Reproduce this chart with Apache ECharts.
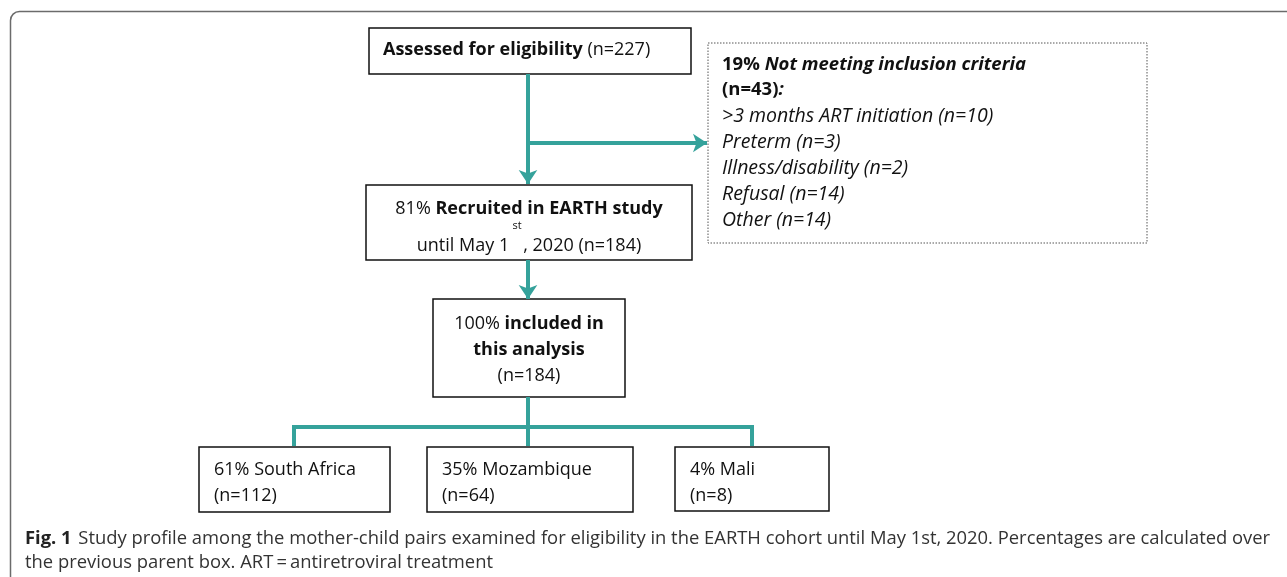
<!DOCTYPE html>
<html><head><meta charset="utf-8">
<script src="https://cdn.jsdelivr.net/npm/echarts@6/dist/echarts.min.js"></script>
<style>html,body{margin:0;padding:0;background:#fff;}#c{width:1287px;height:577px;}</style>
</head><body><div id="c"></div>
<script>
// ---- data ----
const assessedN = 227;
const recruitedPct = 81, recruitedN = 184;
const includedPct = 100, includedN = 184;
const countries = ['South Africa', 'Mozambique', 'Mali'];
const countryPct = [61, 35, 4];
const countryN = [112, 64, 8];
const excludedPct = 19, excludedN = 43;
const exclusionReasons = ['>3 months ART initiation', 'Preterm', 'Illness/disability', 'Refusal', 'Other'];
const exclusionN = [10, 3, 2, 14, 14];
const captionBold = 'Fig. 1';
const captionLines = ['Study profile among the mother-child pairs examined for eligibility in the EARTH cohort until May 1st, 2020. Percentages are calculated over',
  'the previous parent box. ART\u2009=\u2009antiretroviral treatment'];

// ---- layout (pixel space of hidden axes) ----
const boxLayout = [
  [369, 28, 691, 74],   // assessed
  [366, 185, 692, 260], // recruited
  [433, 299, 625, 397], // included
  [199, 447, 390, 512], // South Africa
  [427, 447, 633, 512], // Mozambique
  [675, 447, 829, 511]  // Mali
];
const dashLayout = [708, 43, 1147, 243];
const arrowPaths = [
  [[528, 74], [528, 184]],
  [[528, 143], [707, 143]],
  [[528, 260], [528, 299]]
];
const connectorPaths = [
  [[528, 397], [528, 446]],
  [[294, 446], [294, 427], [752, 427], [752, 446]]
];

const TEAL = '#35a29b';
const FF = '"Open Sans", Lato, sans-serif';
const FS = 18;

function boxTexts(i, x0, y0, x1, y1) {
  const cx = (x0 + x1) / 2;
  const base = {fill: '#111', fontFamily: FF, fontSize: FS};
  const rich = {
    b: {fontWeight: 'bold', fontFamily: FF, fontSize: FS, fill: '#111'},
    r: {fontFamily: FF, fontSize: FS, fill: '#111'}
  };
  const T = (text, x, y, align, extra) => ({type: 'text', style: Object.assign({}, base, {text, x, y, align, verticalAlign: 'middle', rich}, extra || {})});
  const els = [];
  if (i === 0) {
    els.push(T('{b|Assessed for eligibility} {r|(n=' + assessedN + ')}', x0 + 14, y0 + 22, 'left'));
  } else if (i === 1) {
    els.push(T('{r|' + recruitedPct + '% }{b|Recruited in EARTH study}', cx, y0 + 24, 'center'));
    els.push(T('until May 1   , 2020 (n=' + recruitedN + ')', cx, y0 + 61, 'center'));
    els.push(T('st', cx - 12, y0 + 41, 'center', {fontSize: 11}));
  } else if (i === 2) {
    els.push(T('{r|' + includedPct + '% }{b|included in}', cx, y0 + 25, 'center'));
    els.push(T('{b|this analysis}', cx, y0 + 51, 'center'));
    els.push(T('(n=' + includedN + ')', cx, y0 + 77, 'center'));
  } else {
    const k = i - 3;
    els.push(T(countryPct[k] + '% ' + countries[k], x0 + 15, y0 + 23, 'left'));
    els.push(T('(n=' + countryN[k] + ')', x0 + 15, y0 + 49, 'left'));
  }
  return els;
}

const chart = echarts.init(document.getElementById('c'), null, {renderer: 'canvas'});
const option = {
  animation: false,
  backgroundColor: '#fff',
  grid: {left: 0, right: 0, top: 0, bottom: 0},
  xAxis: {type: 'value', min: 0, max: 1287, show: false},
  yAxis: {type: 'value', min: 0, max: 577, inverse: true, show: false},
  graphic: [
    {type: 'rect', shape: {x: 10.5, y: 11.5, width: 1400, height: 700, r: [9, 0, 0, 0]},
     style: {fill: 'none', stroke: '#6b6b6b', lineWidth: 1.5}, silent: true, z: -10}
  ],
  series: [
    {
      type: 'custom', coordinateSystem: 'cartesian2d', clip: false, silent: true,
      data: boxLayout,
      renderItem: function (params, api) {
        const p0 = api.coord([api.value(0), api.value(1)]);
        const p1 = api.coord([api.value(2), api.value(3)]);
        const children = [{type: 'rect', shape: {x: p0[0], y: p0[1], width: p1[0] - p0[0], height: p1[1] - p0[1]},
          style: {fill: '#fff', stroke: '#111', lineWidth: 1.5}}];
        return {type: 'group', children: children.concat(boxTexts(params.dataIndex, p0[0], p0[1], p1[0], p1[1]))};
      }
    },
    {
      type: 'custom', coordinateSystem: 'cartesian2d', clip: false, silent: true,
      data: [dashLayout],
      renderItem: function (params, api) {
        const p0 = api.coord([api.value(0), api.value(1)]);
        const p1 = api.coord([api.value(2), api.value(3)]);
        const HS = 18.5, IS = 19.5;
        const rich = {
          b: {fontWeight: 'bold', fontFamily: FF, fontSize: HS, fill: '#111'},
          bi: {fontWeight: 'bold', fontStyle: 'italic', fontFamily: FF, fontSize: HS, fill: '#111'}
        };
        const children = [{type: 'rect', shape: {x: p0[0], y: p0[1], width: p1[0] - p0[0], height: p1[1] - p0[1]},
          style: {fill: '#fff', stroke: '#555', lineWidth: 1, lineDash: [1.5, 1.5]}}];
        const lx = p0[0] + 14;
        children.push({type: 'text', style: {text: '{b|' + excludedPct + '% }{bi|Not meeting inclusion criteria}', rich, x: lx, y: p0[1] + 22, verticalAlign: 'middle', fontFamily: FF, fontSize: HS}});
        children.push({type: 'text', style: {text: '{b|(n=' + excludedN + ')}{bi|:}', rich, x: lx, y: p0[1] + 47, verticalAlign: 'middle', fontFamily: FF, fontSize: HS}});
        exclusionReasons.forEach(function (r, j) {
          children.push({type: 'text', style: {text: r + ' (n=' + exclusionN[j] + ')', x: lx, y: p0[1] + 73 + j * 26, verticalAlign: 'middle',
            fontFamily: FF, fontSize: IS, fontStyle: 'italic', fill: '#111'}});
        });
        return {type: 'group', children};
      }
    },
    {
      type: 'lines', coordinateSystem: 'cartesian2d', silent: true, z: 5,
      symbol: ['none', 'arrow'], symbolSize: 14,
      lineStyle: {color: TEAL, width: 4, opacity: 1},
      data: arrowPaths.map(c => ({coords: c}))
    },
    {
      type: 'lines', coordinateSystem: 'cartesian2d', polyline: true, silent: true,
      symbol: 'none',
      lineStyle: {color: TEAL, width: 4, opacity: 1, join: 'miter'},
      data: connectorPaths.map(c => ({coords: c}))
    },
    {
      type: 'custom', coordinateSystem: 'cartesian2d', clip: false, silent: true,
      data: [[25, 539]],
      renderItem: function (params, api) {
        const p = api.coord([api.value(0), api.value(1)]);
        const CF = '"Open Sans", Lato, sans-serif';
        const CS = 18.4;
        return {type: 'group', children: [
          {type: 'text', style: {text: '{b|' + captionBold + '}  {r|' + captionLines[0] + '}', x: p[0], y: p[1], verticalAlign: 'middle',
            rich: {b: {fontWeight: 'bold', fontFamily: CF, fontSize: CS, fill: '#222'}, r: {fontFamily: CF, fontSize: CS, fill: '#333'}}}},
          {type: 'text', style: {text: captionLines[1], x: p[0], y: p[1] + 24, verticalAlign: 'middle', fontFamily: CF, fontSize: CS, fill: '#333'}}
        ]};
      }
    }
  ]
};
chart.setOption(option);
</script></body></html>
